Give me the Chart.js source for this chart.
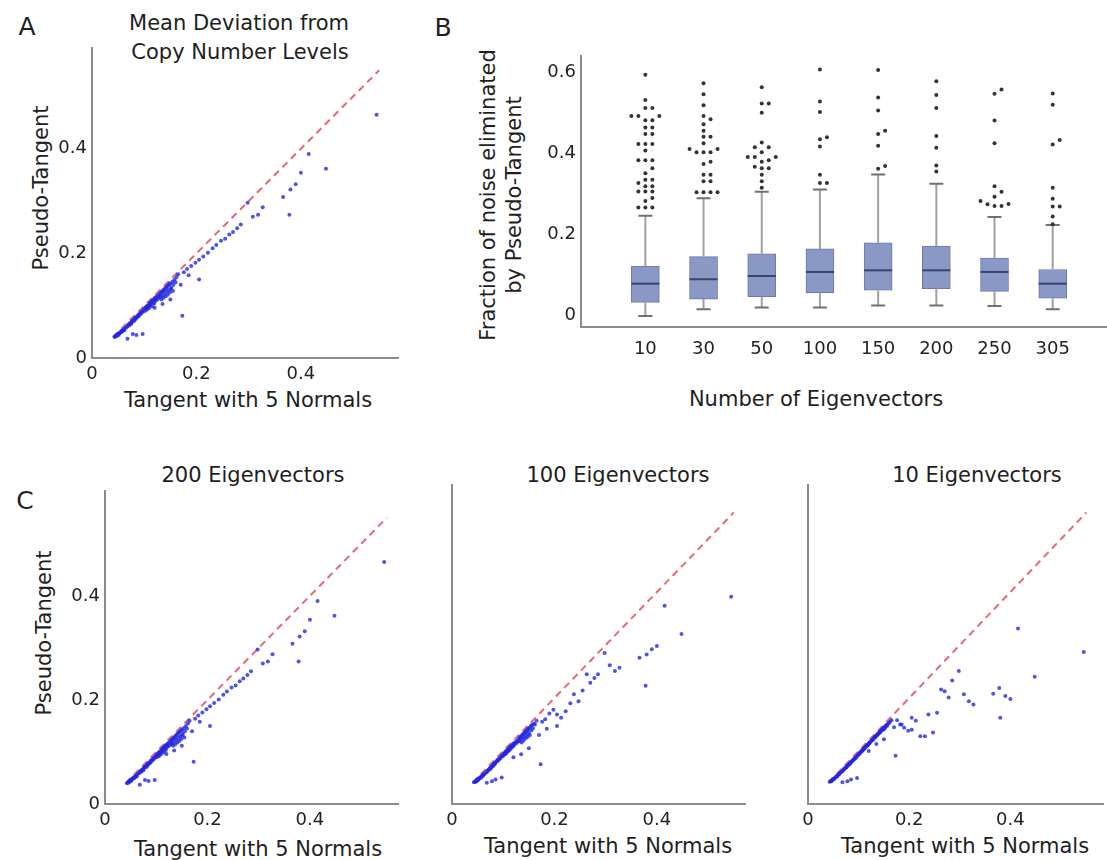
<!DOCTYPE html>
<html>
<head>
<meta charset="utf-8">
<script src="https://cdn.jsdelivr.net/npm/chart.js@4.4.1/dist/chart.umd.min.js"></script>
<style>
  html, body { margin: 0; padding: 0; background: #fff; }
  body { width: 1107px; height: 860px; position: relative; overflow: hidden; font-family: "DejaVu Sans", sans-serif; color: #1e1e1e; }
  .panel { position: absolute; }
  .lbl { position: absolute; white-space: nowrap; font-size: 21px; line-height: 1; transform: translate(-50%, -50%); }
  .rot { transform: translate(-50%, -50%) rotate(-90deg); }
  .letter { font-size: 25px; }
</style>
</head>
<body>
  <div class="lbl letter" style="left:27px; top:26px">A</div>
  <div class="lbl" style="left:239px; top:23px">Mean Deviation from</div>
  <div class="lbl" style="left:240px; top:52px">Copy Number Levels</div>
  <div class="lbl rot" style="left:41px; top:188px">Pseudo-Tangent</div>
  <div class="lbl" style="left:248px; top:400px">Tangent with 5 Normals</div>

  <div class="lbl letter" style="left:443px; top:27px">B</div>
  <div class="lbl rot" style="left:488px; top:195px">Fraction of noise eliminated</div>
  <div class="lbl rot" style="left:514px; top:195px">by Pseudo-Tangent</div>
  <div class="lbl" style="left:816px; top:399px">Number of Eigenvectors</div>

  <div class="lbl letter" style="left:25px; top:500px">C</div>
  <div class="lbl" style="left:253px; top:475px">200 Eigenvectors</div>
  <div class="lbl" style="left:618px; top:475px">100 Eigenvectors</div>
  <div class="lbl" style="left:977px; top:475px">10 Eigenvectors</div>
  <div class="lbl rot" style="left:44px; top:633px">Pseudo-Tangent</div>
  <div class="lbl" style="left:258px; top:849px">Tangent with 5 Normals</div>
  <div class="lbl" style="left:608px; top:846px">Tangent with 5 Normals</div>
  <div class="lbl" style="left:965px; top:846px">Tangent with 5 Normals</div>

  <div class="panel" style="left:32px; top:32px; width:370px; height:366px"><canvas id="chartA"></canvas></div>
  <div class="panel" style="left:521px; top:40px; width:586px; height:327px"><canvas id="chartB"></canvas></div>
  <div class="panel" style="left:45px; top:475px; width:357px; height:369px"><canvas id="chartC200"></canvas></div>
  <div class="panel" style="left:392px; top:475px; width:357px; height:369px"><canvas id="chartC100"></canvas></div>
  <div class="panel" style="left:748px; top:475px; width:359px; height:369px"><canvas id="chartC10"></canvas></div>

<script>
// --- scatter data: tangent (5 normals) vs pseudo-tangent, one entry per sample ---
const tangentX = [
  0.043, 0.045, 0.046, 0.047, 0.048, 0.049, 0.050, 0.051, 0.052, 0.053, 0.055, 0.056, 0.057, 0.058, 0.060, 0.061, 0.062, 0.064, 0.066, 0.068,
  0.070, 0.071, 0.072, 0.074, 0.075, 0.076, 0.077, 0.078, 0.080, 0.081, 0.082, 0.083, 0.084, 0.085, 0.087, 0.088, 0.089, 0.090, 0.092, 0.093, 0.094, 0.096, 0.097, 0.099,
  0.100, 0.101, 0.102, 0.103, 0.104, 0.105, 0.106, 0.107, 0.108, 0.109, 0.110, 0.111, 0.112, 0.113, 0.114, 0.115, 0.116, 0.117, 0.118, 0.119, 0.120, 0.121, 0.122, 0.123, 0.125, 0.126, 0.128, 0.129,
  0.130, 0.131, 0.132, 0.133, 0.134, 0.135, 0.136, 0.137, 0.138, 0.139, 0.140, 0.141, 0.142, 0.143, 0.144, 0.145, 0.146, 0.147, 0.148, 0.149, 0.150, 0.151, 0.152, 0.154, 0.155, 0.156, 0.158, 0.160, 0.162, 0.165,
  0.545, 0.448, 0.415, 0.400, 0.390, 0.380, 0.378, 0.366, 0.327, 0.318, 0.308, 0.298, 0.285, 0.278, 0.270, 0.263, 0.255, 0.247, 0.238, 0.231,
  0.222, 0.213, 0.205, 0.198, 0.190, 0.182, 0.176, 0.205, 0.173, 0.135, 0.097, 0.085, 0.078, 0.068, 0.120, 0.150, 0.170, 0.185
];
const pseudo200 = [
  0.040, 0.041, 0.043, 0.042, 0.044, 0.045, 0.046, 0.044, 0.047, 0.048, 0.050, 0.049, 0.052, 0.051, 0.054, 0.055, 0.053, 0.058, 0.059, 0.061,
  0.064, 0.062, 0.066, 0.067, 0.065, 0.070, 0.069, 0.072, 0.073, 0.071, 0.076, 0.074, 0.078, 0.077, 0.080, 0.079, 0.083, 0.081, 0.085, 0.084, 0.088, 0.087, 0.090, 0.092,
  0.093, 0.090, 0.096, 0.094, 0.098, 0.092, 0.100, 0.097, 0.101, 0.095, 0.104, 0.100, 0.106, 0.103, 0.108, 0.099, 0.110, 0.106, 0.112, 0.104, 0.114, 0.109, 0.116, 0.111, 0.118, 0.113, 0.121, 0.116,
  0.123, 0.117, 0.125, 0.112, 0.127, 0.120, 0.129, 0.115, 0.131, 0.124, 0.133, 0.118, 0.135, 0.127, 0.137, 0.121, 0.139, 0.130, 0.141, 0.125, 0.143, 0.132, 0.135, 0.146, 0.128, 0.140, 0.150, 0.145, 0.155, 0.160,
  0.465, 0.362, 0.390, 0.354, 0.332, 0.322, 0.274, 0.308, 0.288, 0.274, 0.270, 0.297, 0.255, 0.248, 0.241, 0.236, 0.228, 0.224, 0.216, 0.210,
  0.201, 0.194, 0.188, 0.182, 0.176, 0.170, 0.164, 0.150, 0.081, 0.103, 0.046, 0.044, 0.046, 0.037, 0.096, 0.112, 0.140, 0.158
];
const pseudo100 = [
  0.041, 0.042, 0.042, 0.044, 0.043, 0.046, 0.045, 0.047, 0.046, 0.049, 0.049, 0.051, 0.050, 0.053, 0.053, 0.056, 0.055, 0.057, 0.060, 0.060,
  0.063, 0.064, 0.065, 0.068, 0.066, 0.069, 0.071, 0.070, 0.074, 0.072, 0.075, 0.077, 0.076, 0.079, 0.080, 0.082, 0.081, 0.084, 0.084, 0.087, 0.086, 0.089, 0.091, 0.090,
  0.092, 0.095, 0.093, 0.097, 0.095, 0.099, 0.096, 0.101, 0.099, 0.103, 0.100, 0.105, 0.102, 0.107, 0.104, 0.109, 0.106, 0.111, 0.108, 0.113, 0.110, 0.114, 0.112, 0.116, 0.117, 0.115, 0.120, 0.118,
  0.121, 0.124, 0.119, 0.126, 0.122, 0.128, 0.116, 0.130, 0.125, 0.132, 0.120, 0.134, 0.128, 0.136, 0.124, 0.138, 0.131, 0.140, 0.127, 0.142, 0.135, 0.144, 0.130, 0.147, 0.139, 0.149, 0.143, 0.152, 0.150, 0.157,
  0.391, 0.321, 0.374, 0.298, 0.292, 0.282, 0.223, 0.276, 0.257, 0.251, 0.262, 0.285, 0.245, 0.238, 0.229, 0.245, 0.214, 0.194, 0.207, 0.190,
  0.175, 0.163, 0.169, 0.178, 0.171, 0.160, 0.155, 0.147, 0.075, 0.094, 0.050, 0.046, 0.043, 0.040, 0.088, 0.105, 0.130, 0.142
];
const pseudo10 = [
  0.042, 0.043, 0.044, 0.044, 0.045, 0.046, 0.047, 0.047, 0.048, 0.049, 0.051, 0.052, 0.052, 0.053, 0.055, 0.056, 0.057, 0.059, 0.061, 0.062,
  0.065, 0.065, 0.067, 0.068, 0.069, 0.070, 0.071, 0.072, 0.074, 0.075, 0.075, 0.077, 0.078, 0.079, 0.081, 0.081, 0.083, 0.084, 0.085, 0.087, 0.087, 0.089, 0.091, 0.092,
  0.094, 0.095, 0.096, 0.097, 0.097, 0.099, 0.100, 0.100, 0.102, 0.103, 0.103, 0.105, 0.106, 0.106, 0.108, 0.109, 0.109, 0.111, 0.112, 0.112, 0.114, 0.115, 0.115, 0.117, 0.119, 0.120, 0.121, 0.123,
  0.124, 0.125, 0.126, 0.127, 0.128, 0.129, 0.130, 0.130, 0.132, 0.133, 0.133, 0.135, 0.136, 0.136, 0.138, 0.139, 0.139, 0.141, 0.142, 0.140, 0.144, 0.145, 0.143, 0.148, 0.149, 0.147, 0.151, 0.153, 0.155, 0.158,
  0.287, 0.240, 0.331, 0.198, 0.204, 0.163, 0.219, 0.208, 0.188, 0.194, 0.207, 0.251, 0.233, 0.201, 0.213, 0.216, 0.172, 0.135, 0.169, 0.128,
  0.128, 0.157, 0.163, 0.138, 0.144, 0.150, 0.158, 0.140, 0.091, 0.113, 0.049, 0.046, 0.043, 0.041, 0.100, 0.122, 0.145, 0.150
];
const identityLine = [0.04, 0.55];
const scatterTicks = [0, 0.2, 0.4];

// --- box plot data (panel B) ---
const eigenCounts = ['10', '30', '50', '100', '150', '200', '250', '305'];
const whiskerLow = [-0.002, 0.015, 0.019, 0.019, 0.024, 0.024, 0.023, 0.015];
const q1 = [0.032, 0.040, 0.046, 0.056, 0.062, 0.066, 0.059, 0.042];
const median = [0.078, 0.089, 0.097, 0.107, 0.111, 0.111, 0.107, 0.078];
const q3 = [0.121, 0.145, 0.152, 0.164, 0.179, 0.171, 0.141, 0.113];
const whiskerHigh = [0.246, 0.289, 0.305, 0.311, 0.348, 0.325, 0.243, 0.223];
const outliers = [
  [0.594, 0.532, 0.512, 0.512, 0.492, 0.492, 0.492, 0.482, 0.482, 0.464, 0.464, 0.448, 0.448, 0.423, 0.423, 0.423, 0.407, 0.383, 0.383, 0.383, 0.363, 0.351, 0.335, 0.335, 0.327, 0.319, 0.319, 0.306, 0.306, 0.306, 0.290, 0.282, 0.266, 0.266, 0.266],
  [0.573, 0.546, 0.519, 0.492, 0.484, 0.472, 0.456, 0.441, 0.441, 0.425, 0.411, 0.411, 0.403, 0.403, 0.403, 0.379, 0.374, 0.347, 0.347, 0.331, 0.331, 0.304, 0.304, 0.304, 0.304],
  [0.563, 0.523, 0.523, 0.500, 0.427, 0.415, 0.415, 0.403, 0.391, 0.391, 0.391, 0.383, 0.379, 0.367, 0.363, 0.363, 0.347, 0.331, 0.315],
  [0.607, 0.528, 0.502, 0.440, 0.435, 0.417, 0.347, 0.327, 0.327],
  [0.606, 0.538, 0.506, 0.456, 0.448, 0.419, 0.369, 0.362],
  [0.578, 0.544, 0.512, 0.443, 0.414, 0.370, 0.355],
  [0.558, 0.547, 0.481, 0.425, 0.319, 0.305, 0.293, 0.282, 0.274, 0.275, 0.270, 0.270],
  [0.548, 0.520, 0.433, 0.422, 0.315, 0.288, 0.269, 0.269, 0.244, 0.225]
];
const boxTicks = [0, 0.2, 0.4, 0.6];

Chart.defaults.font.family = '"DejaVu Sans", sans-serif';
Chart.defaults.color = '#222';

const axisLine = { display: true, color: '#8c8c8c', width: 2 };
const tickFont = { size: 18 };
const fmt = v => (v === 0 ? '0' : v.toFixed(1));

function scatterChart(id, yData, xMax, yMax, showY) {
  const points = tangentX.map((x, i) => ({ x: x, y: yData[i] }));
  return new Chart(document.getElementById(id).getContext('2d'), {
    type: 'scatter',
    data: {
      datasets: [{
        data: identityLine.map(v => ({ x: v, y: v })),
        showLine: true,
        borderColor: 'rgba(226, 88, 108, 0.9)',
        borderWidth: 2,
        borderDash: [7, 5],
        pointRadius: 0,
        order: 2
      }, {
        data: points,
        pointRadius: 2,
        pointBorderWidth: 0,
        backgroundColor: 'rgba(35, 40, 225, 0.8)',
        order: 1
      }]
    },
    options: {
      responsive: true,
      maintainAspectRatio: false,
      animation: false,
      layout: { padding: { top: 10, right: id === 'chartC10' ? 0 : 4 } },
      plugins: { legend: { display: false }, tooltip: { enabled: false } },
      scales: {
        x: {
          type: 'linear', min: 0, max: xMax,
          grid: { display: false, drawTicks: false },
          border: axisLine,
          ticks: { padding: 6, font: tickFont, callback: fmt },
          afterBuildTicks: s => { s.ticks = scatterTicks.map(v => ({ value: v })); },
          afterFit: s => { s.height = 40; }
        },
        y: {
          type: 'linear', min: 0, max: yMax,
          grid: { display: false, drawTicks: false },
          border: axisLine,
          ticks: { display: showY, padding: 5, font: tickFont, callback: fmt },
          afterBuildTicks: s => { s.ticks = scatterTicks.map(v => ({ value: v })); },
          afterFit: s => { s.width = 60; }
        }
      }
    }
  });
}

const chartA = scatterChart('chartA', pseudo200, 0.586, 0.593, true);
const chartC200 = scatterChart('chartC200', pseudo200, 0.572, 0.602, true);
const chartC100 = scatterChart('chartC100', pseudo100, 0.572, 0.602, false);
const chartC10 = scatterChart('chartC10', pseudo10, 0.583, 0.602, false);

// whiskers, medians and outliers drawn on top of the floating bars
const boxExtras = {
  id: 'boxExtras',
  afterDatasetsDraw(chart) {
    const { ctx, scales: { x, y } } = chart;
    const bars = chart.getDatasetMeta(0).data;
    ctx.save();
    eigenCounts.forEach((c, i) => {
      const cx = x.getPixelForValue(i);
      const half = bars[i].width / 2;

      ctx.strokeStyle = '#a0a0a0';
      ctx.lineWidth = 2;
      ctx.beginPath();
      ctx.moveTo(cx, y.getPixelForValue(q3[i]));
      ctx.lineTo(cx, y.getPixelForValue(whiskerHigh[i]));
      ctx.moveTo(cx, y.getPixelForValue(q1[i]));
      ctx.lineTo(cx, y.getPixelForValue(whiskerLow[i]));
      ctx.stroke();

      ctx.strokeStyle = '#707070';
      ctx.beginPath();
      [whiskerLow[i], whiskerHigh[i]].forEach(v => {
        const py = y.getPixelForValue(v);
        ctx.moveTo(cx - 7, py);
        ctx.lineTo(cx + 7, py);
      });
      ctx.stroke();

      ctx.strokeStyle = '#3a4270';
      ctx.beginPath();
      const my = y.getPixelForValue(median[i]);
      ctx.moveTo(cx - half, my);
      ctx.lineTo(cx + half, my);
      ctx.stroke();

      // simple dodge so that close outliers sit side by side
      const placed = [];
      const offsets = [0, 7, -7, 14, -14, 21, -21];
      ctx.fillStyle = '#333';
      outliers[i].slice().sort((a, b) => a - b).forEach(v => {
        const py = y.getPixelForValue(v);
        let dx = 0;
        for (const off of offsets) {
          if (!placed.some(p => Math.abs(p[0] - off) < 6 && Math.abs(p[1] - py) < 5)) { dx = off; break; }
        }
        placed.push([dx, py]);
        ctx.beginPath();
        ctx.arc(cx + dx, py, 2, 0, Math.PI * 2);
        ctx.fill();
      });
    });
    ctx.restore();
  }
};

const chartB = new Chart(document.getElementById('chartB').getContext('2d'), {
  type: 'bar',
  data: {
    datasets: [{
      data: eigenCounts.map((c, i) => ({ x: i, y: [q1[i], q3[i]] })),
      backgroundColor: 'rgb(138, 152, 198)',
      borderColor: 'rgb(108, 121, 168)',
      borderWidth: 1,
      borderSkipped: false,
      barThickness: 28
    }]
  },
  options: {
    responsive: true,
    maintainAspectRatio: false,
    animation: false,
    layout: { padding: { top: 10, right: 0 } },
    plugins: { legend: { display: false }, tooltip: { enabled: false } },
    scales: {
      x: {
        type: 'linear', min: -0.541, max: 7.368,
        grid: { display: false, drawTicks: false },
        border: axisLine,
        ticks: { padding: 12, font: tickFont, callback: v => eigenCounts[v] },
        afterBuildTicks: s => { s.ticks = eigenCounts.map((c, i) => ({ value: i })); },
        afterFit: s => { s.height = 40; }
      },
      y: {
        type: 'linear', min: -0.029, max: 0.641,
        grid: { display: false, drawTicks: false },
        border: axisLine,
        ticks: { padding: 5, font: tickFont, callback: fmt },
        afterBuildTicks: s => { s.ticks = boxTicks.map(v => ({ value: v })); },
        afterFit: s => { s.width = 60; }
      }
    }
  },
  plugins: [boxExtras]
});
</script>
</body>
</html>
